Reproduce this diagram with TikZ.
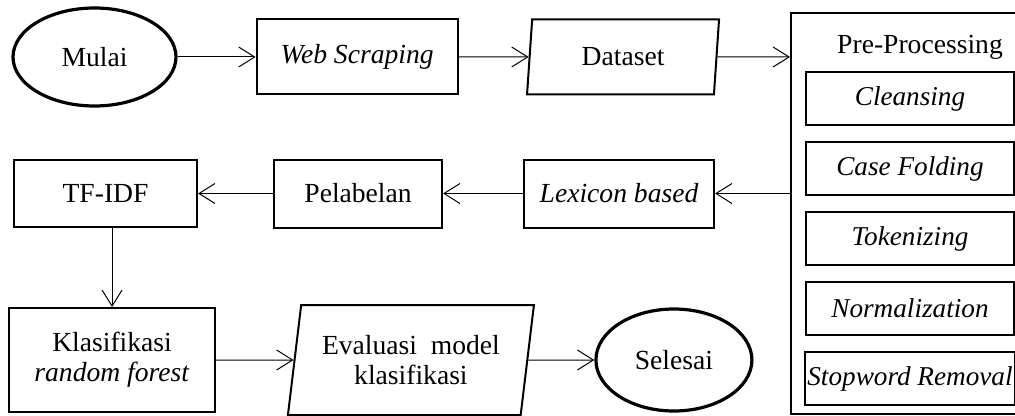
\documentclass[tikz,border=0pt]{standalone}
\usepackage{fontspec}
\setmainfont{Liberation Serif}
\usetikzlibrary{positioning,shapes.geometric,arrows.meta}

\begin{document}
\begin{tikzpicture}[node distance=38pt, >={Straight Barb[length=8pt,width=10pt]},
  main node/.style={draw, line width=1pt, inner sep=2pt, align=center, font=\fontsize{13.8pt}{15pt}\selectfont},
  end node/.style={main node, ellipse, line width=1.6pt},
  data node/.style={main node, trapezium, trapezium stretches body},
  sub node/.style={main node, inner sep=1pt, minimum width=104pt, minimum height=26.5pt, font=\fontsize{13.6pt}{15pt}\selectfont\itshape}]
\useasboundingbox (0,0) rectangle (507.5pt,-208pt);

\node[end node, minimum width=81.5pt, minimum height=49pt] (mulai) at (47.25pt,-28.5pt) {Mulai};
\node[main node, right=39pt of mulai, minimum width=100.5pt, minimum height=37.5pt] (webscraping) {\textit{Web Scraping}};
\node[data node, right=35pt of webscraping, minimum width=96pt, minimum height=37.5pt, trapezium left angle=79, trapezium right angle=101] (dataset) {Dataset};

\node[draw, line width=1pt, anchor=north west, minimum width=119pt, minimum height=200.5pt] (preprocessing) at (395pt,-6pt) {};
\node[main node, draw=none, inner sep=0pt, below=11pt of preprocessing.north, xshift=5pt] (preprocessingtitle) {Pre-Processing};
\node[sub node, below=29.5pt of preprocessing.north] (cleansing)     {Cleansing};
\node[sub node, below=7.5pt of cleansing]            (casefolding)   {Case Folding};
\node[sub node, below=7.5pt of casefolding]          (tokenizing)    {Tokenizing};
\node[sub node, below=7.5pt of tokenizing]           (normalization) {Normalization};
\node[sub node, below=7.5pt of normalization]        (stopword)      {Stopword Removal};

\node[main node, below=31.5pt of dataset, xshift=-2pt, minimum width=95pt, minimum height=34pt] (lexicon) {\textit{Lexicon based}};
\node[main node, left=40pt of lexicon, minimum width=84pt, minimum height=34pt]    (pelabelan) {Pelabelan};
\node[main node, left=37.5pt of pelabelan, minimum width=91.5pt, minimum height=33.5pt] (tfidf) {TF-IDF};

\node[main node, below=39.5pt of tfidf, xshift=3.25pt, minimum width=103pt, minimum height=52pt] (klasifikasi) {Klasifikasi\\\textit{random forest}};
\node[data node, right=38.75pt of klasifikasi, minimum width=123pt, minimum height=55pt, trapezium left angle=77, trapezium right angle=103] (evaluasi) {Evaluasi\ \ model\\klasifikasi};
\node[end node, right=33pt of evaluasi, minimum width=78pt, minimum height=51pt] (selesai) {Selesai};

\path[line width=0.5pt]
(mulai)       edge[->] (webscraping)
(webscraping) edge[->] (dataset)
(dataset)     edge[->] (dataset -| preprocessing.west)
(preprocessing.west |- lexicon) edge[->] (lexicon)
(lexicon)     edge[->] (pelabelan)
(pelabelan)   edge[->] (tfidf)
(klasifikasi.north |- tfidf.south) edge[->] (klasifikasi)
(klasifikasi) edge[->] (evaluasi)
(evaluasi)    edge[->] (selesai)
;
\end{tikzpicture}
\end{document}
